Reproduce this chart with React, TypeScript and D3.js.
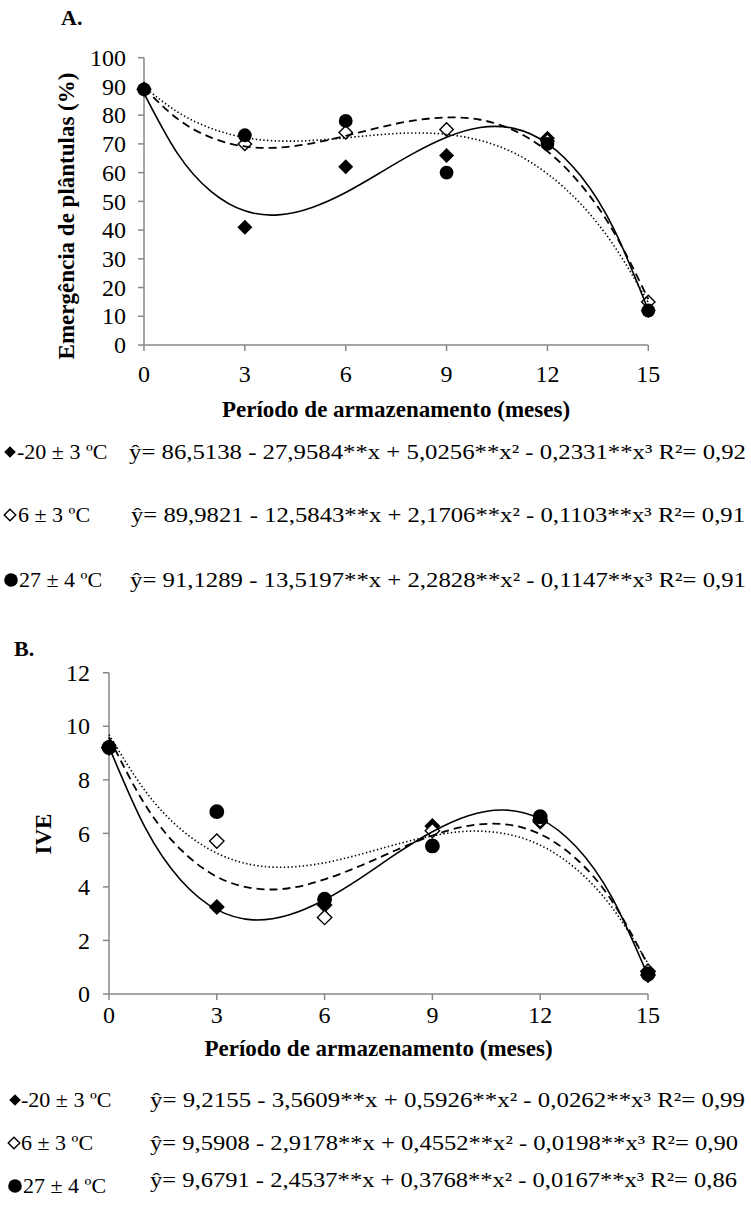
import React from 'react';
import * as d3 from 'd3';

// ---------- data ----------
const months = [0, 3, 6, 9, 12, 15];
const xTickLabels = [0, 3, 6, 9, 12, 15];
const yTicksA = [0, 10, 20, 30, 40, 50, 60, 70, 80, 90, 100];
const yTicksB = [0, 2, 4, 6, 8, 10, 12];

// Panel A: Emergência de plântulas (%)
const emergFreeze = [89, 41, 62, 66, 72, 12];
const emergCold = [89, 70, 74, 75, 71, 15];
const emergRoom = [89, 73, 78, 60, 70, 12];

// Panel B: IVE
const iveFreeze = [9.21, 3.25, 3.32, 6.27, 6.43, 0.7];
const iveCold = [9.2, 5.71, 2.86, 6.1, 6.5, 0.85];
const iveRoom = [9.21, 6.81, 3.54, 5.53, 6.62, 0.75];

// trend curves, read month by month
const curveMonths = [0, 1, 2, 3, 4, 5, 6, 7, 8, 9, 10, 11, 12, 13, 14, 15];
const trendEmergFreeze = [87.6, 66.6, 53.4, 46.7, 45.3, 47.9, 53.1, 59.8, 66.6, 72.3, 75.7, 75.4, 70.1, 58.7, 39.8, 12.1];
const trendEmergCold = [89.5, 78.7, 72.2, 69.1, 68.7, 70.2, 72.8, 75.7, 78.1, 79.2, 78.4, 74.7, 67.4, 55.7, 38.8, 16.0];
const trendEmergRoom = [89.9, 81.1, 75.4, 72.2, 71.0, 71.2, 72.1, 73.2, 73.8, 73.3, 71.2, 66.9, 59.6, 49.0, 34.2, 14.8];
const trendIveFreeze = [9.23, 6.23, 4.25, 3.15, 2.77, 2.95, 3.52, 4.33, 5.24, 6.06, 6.66, 6.87, 6.54, 5.5, 3.6, 0.68];
const trendIveCold = [9.59, 7.08, 5.39, 4.38, 3.95, 3.95, 4.28, 4.79, 5.38, 5.92, 6.28, 6.34, 5.97, 5.05, 3.47, 1.08];
const trendIveRoom = [9.69, 7.6, 6.15, 5.26, 4.82, 4.74, 4.9, 5.22, 5.59, 5.91, 6.08, 5.99, 5.56, 4.67, 3.23, 1.14];

const legendLabels = ['-20 ± 3 ºC', '6 ± 3 ºC', '27 ± 4 ºC'];
const equationsA = [
  'ŷ= 86,5138 - 27,9584**x + 5,0256**x² - 0,2331**x³ R²= 0,92',
  'ŷ= 89,9821 - 12,5843**x + 2,1706**x² - 0,1103**x³ R²= 0,91',
  'ŷ= 91,1289 - 13,5197**x + 2,2828**x² - 0,1147**x³ R²= 0,91',
];
const equationsB = [
  'ŷ= 9,2155 - 3,5609**x + 0,5926**x² - 0,0262**x³ R²= 0,99',
  'ŷ= 9,5908 - 2,9178**x + 0,4552**x² - 0,0198**x³ R²= 0,90',
  'ŷ= 9,6791 - 2,4537**x + 0,3768**x² - 0,0167**x³ R²= 0,86',
];
const xTitle = 'Período de armazenamento (meses)';

// ---------- style ----------
const FONT = '"Liberation Serif", "Times New Roman", serif';
const AXIS = '#878787';
const lineStyles = [
  { dash: undefined, width: 1.6 },
  { dash: '8,5', width: 1.8 },
  { dash: '1.4,2.4', width: 1.6 },
];

type Sc = d3.ScaleLinear<number, number>;

function Diamond({ cx, cy, s, open }: { cx: number; cy: number; s: number; open?: boolean }) {
  const d = `M${cx},${cy - s}L${cx + s},${cy}L${cx},${cy + s}L${cx - s},${cy}Z`;
  return open ? <path d={d} fill="#fff" stroke="#000" strokeWidth={1.4} /> : <path d={d} fill="#000" />;
}

function Marker({ kind, cx, cy, s }: { kind: number; cx: number; cy: number; s: number }) {
  if (kind === 0) return <Diamond cx={cx} cy={cy} s={s} />;
  if (kind === 1) return <Diamond cx={cx} cy={cy} s={s - 0.8} open />;
  return <circle cx={cx} cy={cy} r={s - 0.6} fill="#000" />;
}

function Panel({
  x, y, yTicks, series, trends, ms, yLabelOffset, xLabelY,
}: {
  x: Sc; y: Sc; yTicks: number[]; series: number[][]; trends: number[][]; ms: number; yLabelOffset: number; xLabelY: number;
}) {
  const [x0, x1] = x.range();
  const [y0, y1] = y.range();
  const line = d3
    .line<number>()
    .x((_, i) => x(curveMonths[i]))
    .y((v) => y(v))
    .curve(d3.curveNatural);
  return (
    <g>
      <line x1={x0} x2={x0} y1={y0} y2={y1} stroke={AXIS} strokeWidth={1.5} />
      <line x1={x0} x2={x1} y1={y0} y2={y0} stroke={AXIS} strokeWidth={1.5} />
      {yTicks.map((t) => (
        <g key={'y' + t}>
          <line x1={x0 - 6} x2={x0} y1={y(t)} y2={y(t)} stroke={AXIS} strokeWidth={1.5} />
          <text x={x0 - yLabelOffset} y={y(t)} dy="0.34em" textAnchor="end" fontSize={24} fontFamily={FONT}>
            {t}
          </text>
        </g>
      ))}
      {xTickLabels.map((t) => (
        <g key={'x' + t}>
          <line x1={x(t)} x2={x(t)} y1={y0} y2={y0 + 6} stroke={AXIS} strokeWidth={1.5} />
          <text x={x(t)} y={xLabelY} textAnchor="middle" fontSize={24} fontFamily={FONT}>
            {t}
          </text>
        </g>
      ))}
      {series.map((vals, k) =>
        vals.map((v, i) => <Marker key={`m${k}-${i}`} kind={k} cx={x(months[i])} cy={y(v)} s={ms} />)
      )}
      {trends.map((vals, k) => (
        <path
          key={'t' + k}
          d={line(vals) || ''}
          fill="none"
          stroke="#000"
          strokeWidth={lineStyles[k].width}
          strokeDasharray={lineStyles[k].dash}
        />
      ))}
    </g>
  );
}

function LegendRow({
  kind, symX, labelX, eqX, eqEnd, baseline, eqBaseline, label, eq,
}: {
  kind: number; symX: number; labelX: number; eqX: number; eqEnd: number; baseline: number; eqBaseline?: number; label: string; eq: string;
}) {
  const cy = baseline - 7;
  return (
    <g fontFamily={FONT} fontSize={22}>
      {kind === 0 && <Diamond cx={symX} cy={cy} s={5.8} />}
      {kind === 1 && <Diamond cx={symX} cy={cy} s={5.8} open />}
      {kind === 2 && <circle cx={symX} cy={cy} r={6.8} fill="#000" />}
      <text x={labelX} y={baseline}>{label}</text>
      <text x={eqX} y={eqBaseline ?? baseline} textLength={eqEnd - eqX} lengthAdjust="spacingAndGlyphs">
        {eq}
      </text>
    </g>
  );
}

export default function App() {
  const xA = d3.scaleLinear().domain([0, 15]).range([144, 648.3]);
  const yA = d3.scaleLinear().domain([0, 100]).range([345, 57.7]);
  const xB = d3.scaleLinear().domain([0, 15]).range([109, 648]);
  const yB = d3.scaleLinear().domain([0, 12]).range([994, 672.7]);

  const legA = [
    { symX: 10, labelX: 17, eqX: 129, eqEnd: 746, baseline: 459 },
    { symX: 10, labelX: 18, eqX: 131, eqEnd: 745, baseline: 522 },
    { symX: 11, labelX: 19, eqX: 130, eqEnd: 746, baseline: 587 },
  ];
  const legB = [
    { symX: 15, labelX: 21, eqX: 150, eqEnd: 745, baseline: 1107 },
    { symX: 14, labelX: 21, eqX: 150, eqEnd: 738, baseline: 1150 },
    { symX: 15, labelX: 23, eqX: 150, eqEnd: 737, baseline: 1193, eqBaseline: 1187 },
  ];

  return (
    <svg
      width={751}
      height={1209}
      viewBox="0 0 751 1209"
      style={{ position: 'absolute', left: 0, top: 0, background: '#fff' }}
    >
      <rect width={751} height={1209} fill="#fff" />
      {/* Panel A */}
      <text x={61} y={25} fontFamily={FONT} fontSize={22} fontWeight="bold">A.</text>
      <text
        transform="translate(74,216) rotate(-90)"
        textAnchor="middle"
        fontFamily={FONT}
        fontSize={23}
        fontWeight="bold"
      >
        Emergência de plântulas (%)
      </text>
      <Panel
        x={xA}
        y={yA}
        yTicks={yTicksA}
        series={[emergFreeze, emergCold, emergRoom]}
        trends={[trendEmergFreeze, trendEmergCold, trendEmergRoom]}
        ms={7.5}
        yLabelOffset={18}
        xLabelY={382}
      />
      <text x={396} y={417} textAnchor="middle" fontFamily={FONT} fontSize={23} fontWeight="bold">
        {xTitle}
      </text>
      {legA.map((r, i) => (
        <LegendRow key={'la' + i} kind={i} {...r} label={legendLabels[i]} eq={equationsA[i]} />
      ))}

      {/* Panel B */}
      <text x={14} y={656} fontFamily={FONT} fontSize={22} fontWeight="bold">B.</text>
      <text
        transform="translate(51,834) rotate(-90)"
        textAnchor="middle"
        fontFamily={FONT}
        fontSize={23}
        fontWeight="bold"
      >
        IVE
      </text>
      <Panel
        x={xB}
        y={yB}
        yTicks={yTicksB}
        series={[iveFreeze, iveCold, iveRoom]}
        trends={[trendIveFreeze, trendIveCold, trendIveRoom]}
        ms={8}
        yLabelOffset={19}
        xLabelY={1023}
      />
      <text x={378.5} y={1056} textAnchor="middle" fontFamily={FONT} fontSize={23} fontWeight="bold">
        {xTitle}
      </text>
      {legB.map((r, i) => (
        <LegendRow key={'lb' + i} kind={i} {...r} label={legendLabels[i]} eq={equationsB[i]} />
      ))}
    </svg>
  );
}
